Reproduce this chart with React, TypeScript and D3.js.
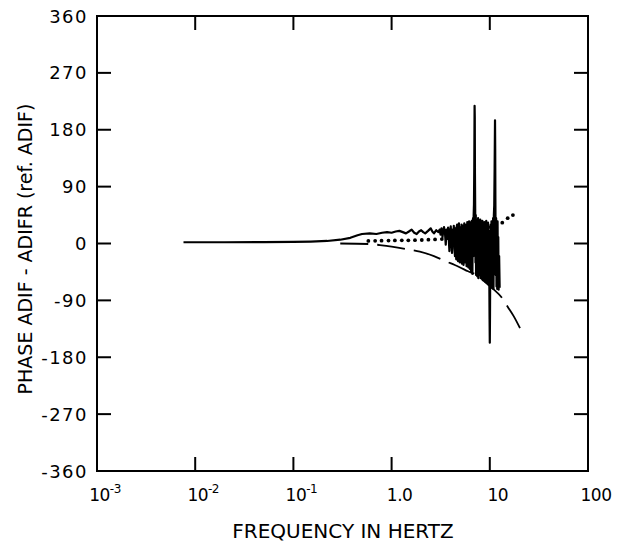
import React from "react";
import * as d3 from "d3";

const W = 622;
const H = 542;

// Axis ticks
const xTicks = [1e-3, 1e-2, 1e-1, 1, 10, 100];
const xTickBase = ["10", "10", "10", "1.0", "10", "100"];
const xTickSup = ["-3", "-2", "-1", "", "", ""];
const yTicks = [360, 270, 180, 90, 0, -90, -180, -270, -360];

// Solid curve: smooth low-frequency part (Hz, degrees)
const solidLow: [number, number][] = [
  [0.0076, 2], [0.02, 2], [0.05, 2.2], [0.1, 2.5], [0.15, 3], [0.22, 4], [0.3, 6],
  [0.38, 9], [0.45, 13], [0.5, 15], [0.6, 16], [0.7, 15], [0.8, 17], [0.9, 18],
  [1.0, 17], [1.1, 19], [1.2, 20], [1.3, 18], [1.4, 16], [1.5, 19], [1.6, 22],
  [1.7, 17], [1.8, 15], [1.9, 19], [2.0, 21], [2.1, 18], [2.2, 16], [2.35, 20],
  [2.5, 24], [2.6, 19], [2.7, 16], [2.85, 21],
];

// Solid curve: noisy high-frequency part (Hz, degrees)
const solidNoisy: [number, number][] = [
  [3.0, 18], [3.08, 22], [3.15, 14], [3.22, 24], [3.3, 10], [3.36, 20], [3.42, 26], [3.5, 16],
  [3.56, -2], [3.62, 22], [3.7, 12], [3.76, 25], [3.82, 8], [3.88, -12], [3.94, 20], [4.0, 27],
  [4.06, 10], [4.12, -15], [4.18, 22], [4.24, 5], [4.3, 28], [4.36, -8], [4.42, -20], [4.48, 24],
  [4.55, -25], [4.6, 26], [4.65, 30], [4.7, -10], [4.75, -28], [4.8, 20], [4.85, 32], [4.9, -15],
  [4.95, -30], [5.0, 25], [5.05, 5], [5.1, -22], [5.15, 30], [5.2, -32], [5.25, 15], [5.3, 28],
  [5.35, -20], [5.4, -34], [5.45, 22], [5.5, 32], [5.55, -12], [5.6, -30], [5.65, 26], [5.7, -25],
  [5.75, 30], [5.8, -36], [5.85, 18], [5.9, 34], [5.95, -28], [6.0, 10], [6.05, -38], [6.1, 30],
  [6.15, 35], [6.2, -30], [6.25, -40], [6.3, 25], [6.35, 33], [6.4, -22], [6.45, -45], [6.5, 30],
  [6.55, 36], [6.6, -35], [6.65, -48], [6.7, 28], [6.75, 40], [6.8, -20], [6.85, 45], [6.9, 62],
  [6.95, 120], [7.0, 218], [7.03, 200], [7.06, 110], [7.1, 55], [7.15, -30], [7.2, 45], [7.25, -50],
  [7.3, 38], [7.35, -40], [7.4, 35], [7.45, -52], [7.5, 30], [7.55, -35], [7.6, 40], [7.65, -55],
  [7.7, 25], [7.75, -42], [7.8, 36], [7.85, -50], [7.9, 30], [7.95, -38], [8.0, 38], [8.1, -55],
  [8.2, 32], [8.3, -45], [8.4, 36], [8.5, -58], [8.6, 28], [8.7, -48], [8.8, 34], [8.9, -60],
  [9.0, 30], [9.1, -52], [9.2, 36], [9.3, -62], [9.4, 25], [9.5, -55], [9.6, 33], [9.7, -65],
  [9.8, 20], [9.9, -70], [9.95, -120], [10.0, -157], [10.05, -110], [10.1, -40], [10.2, 30],
  [10.3, -66], [10.4, 35], [10.5, -70], [10.6, 28], [10.7, -60], [10.8, 40], [10.9, -72],
  [11.0, 45], [11.1, 60], [11.2, 120], [11.3, 195], [11.35, 150], [11.4, 70], [11.5, -50],
  [11.6, 40], [11.7, -68], [11.8, 30], [11.9, -72], [12.0, 35], [12.1, -70], [12.2, 10],
  [12.3, -73], [12.45, -20], [12.6, -70],
];

// Dotted curve (Hz, degrees)
const dotted: [number, number][] = [
  [0.58, 4], [0.68, 4.3], [0.79, 4.5], [0.93, 4.6], [1.08, 4.8], [1.27, 5], [1.48, 5],
  [1.73, 5.2], [2.03, 5.5], [2.37, 6], [2.77, 6.5], [3.25, 7], [3.8, 8], [4.45, 10],
  [5.2, 12], [6.1, 15], [7.1, 18], [8.3, 22], [9.7, 26], [11.4, 29], [13.4, 33],
  [15.2, 40], [17.2, 45],
];

// Dashed curve (Hz, degrees)
const dashed: [number, number][] = [
  [0.3, 0], [0.63, -1], [0.76, -2.5], [1.0, -5], [1.54, -10], [1.94, -13], [2.7, -20],
  [3.67, -29], [4.4, -34], [6.0, -44], [7.9, -53], [8.5, -58], [10.5, -70], [13.6, -88],
  [15.2, -100], [17.5, -115], [20.3, -134],
];

const FONT = "'DejaVu Sans', 'Liberation Sans', sans-serif";

export default function App() {
  const left = 97, right = 588, top = 16, bottom = 471;
  const x = d3.scaleLog().domain([1e-3, 100]).range([left, right]);
  const y = d3.scaleLinear().domain([-360, 360]).range([bottom, top]);

  const lineGen = d3
    .line<[number, number]>()
    .x((d) => x(d[0]))
    .y((d) => y(d[1]));
  const dashGen = d3
    .line<[number, number]>()
    .x((d) => x(d[0]))
    .y((d) => y(d[1]))
    .curve(d3.curveMonotoneX);

  const solidPath = lineGen([...solidLow, ...solidNoisy]) || "";
  const dashPath = dashGen(dashed) || "";
  const tickLen = 14;

  return (
    <svg
      width={W}
      height={H}
      style={{ position: "absolute", left: 0, top: 0, background: "#fff" }}
      fontFamily={FONT}
    >
      <rect x={0} y={0} width={W} height={H} fill="#fff" />
      {/* frame */}
      <rect
        x={left}
        y={top}
        width={right - left}
        height={bottom - top}
        fill="none"
        stroke="#000"
        strokeWidth={2}
      />
      {/* x ticks (top & bottom, inward) */}
      {xTicks.slice(1, -1).map((t, i) => (
        <g key={"xt" + i}>
          <line x1={x(t)} x2={x(t)} y1={bottom} y2={bottom - tickLen} stroke="#000" strokeWidth={2} />
          <line x1={x(t)} x2={x(t)} y1={top} y2={top + tickLen} stroke="#000" strokeWidth={2} />
        </g>
      ))}
      {/* y ticks (left & right, inward) */}
      {yTicks.slice(1, -1).map((t, i) => (
        <g key={"yt" + i}>
          <line x1={left} x2={left + tickLen} y1={y(t)} y2={y(t)} stroke="#000" strokeWidth={2} />
          <line x1={right} x2={right - tickLen} y1={y(t)} y2={y(t)} stroke="#000" strokeWidth={2} />
        </g>
      ))}
      {/* y tick labels */}
      {yTicks.map((t, i) => (
        <text
          key={"yl" + i}
          x={88}
          y={y(t) + 6.5}
          textAnchor="end"
          fontSize={18}
          letterSpacing={1.5}
          fill="#000"
        >
          {t < 0 ? "-" + Math.abs(t) : String(t)}
        </text>
      ))}
      {/* x tick labels */}
      {xTicks.map((t, i) => (
        <text
          key={"xl" + i}
          x={x(t) + 8}
          y={501}
          textAnchor="middle"
          fontSize={17}
          letterSpacing={-0.5}
          fill="#000"
        >
          {xTickBase[i]}
          {xTickSup[i] ? (
            <tspan fontSize={12} dy={-8}>
              {xTickSup[i]}
            </tspan>
          ) : null}
        </text>
      ))}
      {/* axis titles */}
      <text x={343} y={538} textAnchor="middle" fontSize={20} fill="#000">
        FREQUENCY IN HERTZ
      </text>
      <text
        transform={`translate(32, 249) rotate(-90)`}
        textAnchor="middle"
        fontSize={19}
        fill="#000"
      >
        PHASE ADIF - ADIFR  (ref. ADIF)
      </text>
      {/* dashed curve */}
      <path d={dashPath} fill="none" stroke="#000" strokeWidth={1.8} strokeDasharray="28 9" />
      {/* dotted curve */}
      {dotted.map((d, i) => (
        <circle key={"dt" + i} cx={x(d[0])} cy={y(d[1])} r={1.9} fill="#000" />
      ))}
      {/* solid curve */}
      <path
        d={solidPath}
        fill="none"
        stroke="#000"
        strokeWidth={2.2}
        strokeLinejoin="round"
      />
    </svg>
  );
}
